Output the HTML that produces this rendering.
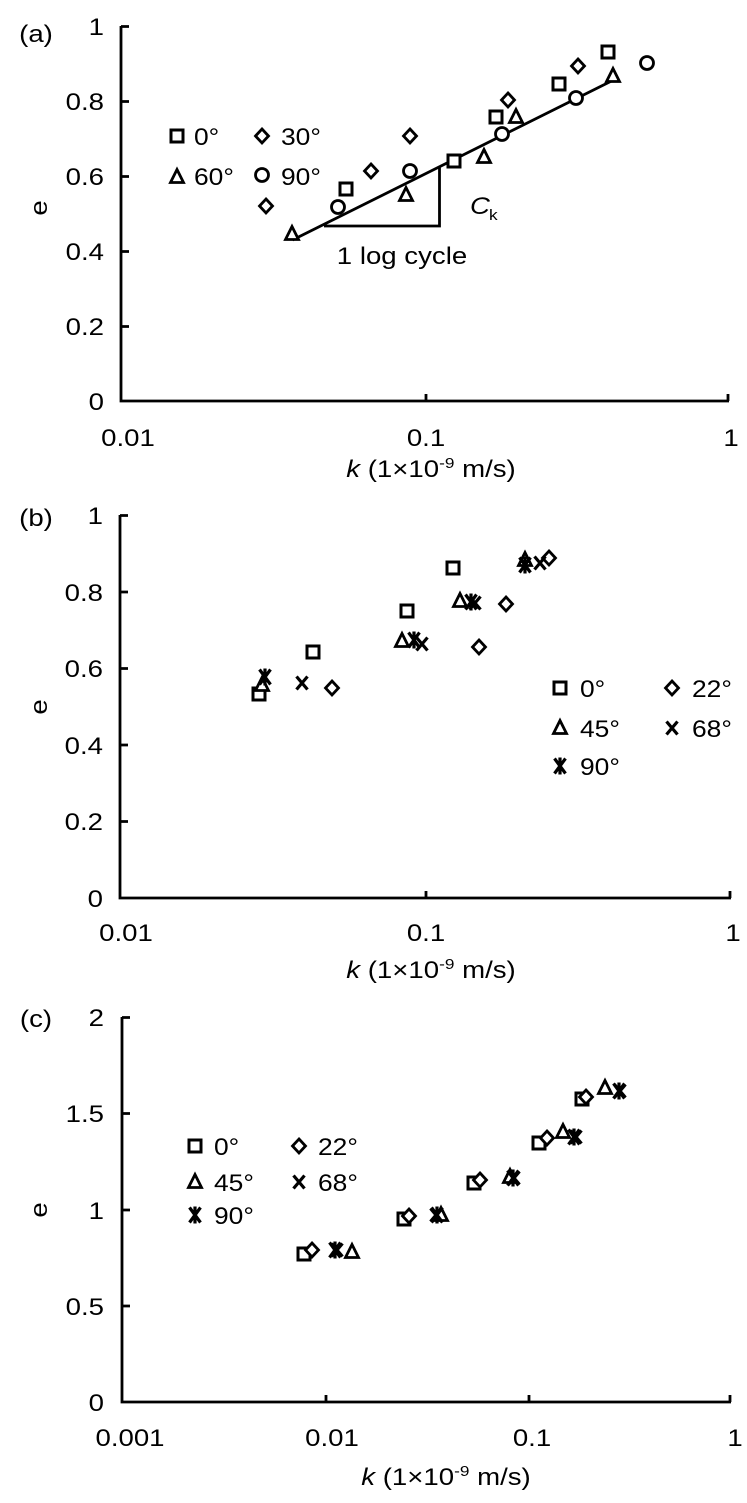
<!DOCTYPE html>
<html><head><meta charset="utf-8"><style>
html,body{margin:0;padding:0;background:#fff;}
svg{display:block;}
text{font-family:"Liberation Sans",Arial,sans-serif;fill:#000;}
</style></head><body>
<svg width="747" height="1503" viewBox="0 0 747 1503" xmlns="http://www.w3.org/2000/svg">
<defs>
<g id="sq"><rect x="-6" y="-6" width="12" height="12" fill="#fff" stroke="#000" stroke-width="3"/></g>
<g id="di"><path d="M0,-7 L6.5,0 L0,7 L-6.5,0Z" fill="#fff" stroke="#000" stroke-width="2.8"/></g>
<g id="tr"><path d="M0,-7.5 L6.5,5.5 L-6.5,5.5Z" fill="#fff" stroke="#000" stroke-width="2.8"/></g>
<g id="ci"><circle r="6.5" fill="#fff" stroke="#000" stroke-width="2.8"/></g>
<g id="xx"><path d="M-5.5,-6.5 L5.5,6.5 M5.5,-6.5 L-5.5,6.5" stroke="#000" stroke-width="3.2"/></g>
<g id="as"><path d="M-5.5,-7.5 L5.5,7.5 M5.5,-7.5 L-5.5,7.5 M0,-8.5 L0,8.5" stroke="#000" stroke-width="3.2"/></g>
</defs>

<!-- ========== Panel (a) ========== -->
<g font-size="24">
<g transform="translate(36,42) scale(1.15,1)"><text text-anchor="middle">(a)</text></g>
<g transform="translate(104,35) scale(1.15,1)"><text text-anchor="end">1</text></g>
<g transform="translate(104,110) scale(1.15,1)"><text text-anchor="end">0.8</text></g>
<g transform="translate(104,185) scale(1.15,1)"><text text-anchor="end">0.6</text></g>
<g transform="translate(104,260) scale(1.15,1)"><text text-anchor="end">0.4</text></g>
<g transform="translate(104,335) scale(1.15,1)"><text text-anchor="end">0.2</text></g>
<g transform="translate(104,410) scale(1.15,1)"><text text-anchor="end">0</text></g>
<g transform="translate(128,446) scale(1.15,1)"><text text-anchor="middle">0.01</text></g>
<g transform="translate(426,446) scale(1.15,1)"><text text-anchor="middle">0.1</text></g>
<g transform="translate(731,446) scale(1.15,1)"><text text-anchor="middle">1</text></g>
<g transform="translate(431,477) scale(1.15,1)"><text text-anchor="middle"><tspan font-style="italic">k</tspan> (1×10<tspan font-size="15" dy="-9">-9</tspan><tspan dy="9"> m/s)</tspan></text></g>
<g transform="translate(47,208) rotate(-90) scale(1.15,1)"><text text-anchor="middle">e</text></g>
</g>
<path d="M121,26 V401 H729" fill="none" stroke="#000" stroke-width="2.8"/>
<path d="M121,101.5 h8 M121,176.5 h8 M121,251.5 h8 M121,326.5 h8 M121,26.5 h8 M426,401 v-7 M728,401 v-7" stroke="#000" stroke-width="2.8"/>
<path d="M292.5,240 L613.5,80 M324,226 H439.5 V167" fill="none" stroke="#000" stroke-width="2.8"/>
<g font-size="24">
<g transform="translate(470,214) scale(1.15,1)"><text font-style="italic">C</text></g>
<g transform="translate(489,220) scale(1.15,1)"><text font-size="15">k</text></g>
<g transform="translate(402,264) scale(1.15,1)"><text text-anchor="middle">1 log cycle</text></g>
<g transform="translate(194,145) scale(1.1,1)"><text>0°</text></g>
<g transform="translate(281,145) scale(1.1,1)"><text>30°</text></g>
<g transform="translate(194,185) scale(1.1,1)"><text>60°</text></g>
<g transform="translate(281,185) scale(1.1,1)"><text>90°</text></g>
</g>
<use href="#sq" x="177" y="136"/><use href="#di" x="262" y="136"/>
<use href="#tr" x="177" y="177"/><use href="#ci" x="262" y="175"/>
<use href="#sq" x="346" y="189"/><use href="#sq" x="454" y="161"/><use href="#sq" x="496" y="117"/><use href="#sq" x="559" y="84"/><use href="#sq" x="608" y="52"/>
<use href="#di" x="266" y="206"/><use href="#di" x="371" y="171"/><use href="#di" x="410" y="136"/><use href="#di" x="508" y="100"/><use href="#di" x="578" y="66"/>
<use href="#tr" x="292" y="234"/><use href="#tr" x="406" y="195"/><use href="#tr" x="484" y="157"/><use href="#tr" x="516" y="117"/><use href="#tr" x="613" y="76"/>
<use href="#ci" x="338" y="207"/><use href="#ci" x="410" y="171"/><use href="#ci" x="502" y="134"/><use href="#ci" x="576" y="98"/><use href="#ci" x="647" y="63"/>

<!-- ========== Panel (b) ========== -->
<g font-size="24">
<g transform="translate(36,526) scale(1.15,1)"><text text-anchor="middle">(b)</text></g>
<g transform="translate(103,524) scale(1.15,1)"><text text-anchor="end">1</text></g>
<g transform="translate(103,601) scale(1.15,1)"><text text-anchor="end">0.8</text></g>
<g transform="translate(103,677) scale(1.15,1)"><text text-anchor="end">0.6</text></g>
<g transform="translate(103,754) scale(1.15,1)"><text text-anchor="end">0.4</text></g>
<g transform="translate(103,830) scale(1.15,1)"><text text-anchor="end">0.2</text></g>
<g transform="translate(103,907) scale(1.15,1)"><text text-anchor="end">0</text></g>
<g transform="translate(126,941) scale(1.15,1)"><text text-anchor="middle">0.01</text></g>
<g transform="translate(426,941) scale(1.15,1)"><text text-anchor="middle">0.1</text></g>
<g transform="translate(733,941) scale(1.15,1)"><text text-anchor="middle">1</text></g>
<g transform="translate(431,978) scale(1.15,1)"><text text-anchor="middle"><tspan font-style="italic">k</tspan> (1×10<tspan font-size="15" dy="-9">-9</tspan><tspan dy="9"> m/s)</tspan></text></g>
<g transform="translate(47,707) rotate(-90) scale(1.15,1)"><text text-anchor="middle">e</text></g>
</g>
<path d="M120,515 V898 H731" fill="none" stroke="#000" stroke-width="2.8"/>
<path d="M120,515.5 h8 M120,592 h8 M120,668.5 h8 M120,745 h8 M120,821.5 h8 M426,898 v-7 M730,898 v-7" stroke="#000" stroke-width="2.8"/>
<g font-size="24">
<g transform="translate(580,697) scale(1.1,1)"><text>0°</text></g>
<g transform="translate(692,697) scale(1.1,1)"><text>22°</text></g>
<g transform="translate(580,737) scale(1.1,1)"><text>45°</text></g>
<g transform="translate(692,737) scale(1.1,1)"><text>68°</text></g>
<g transform="translate(580,775) scale(1.1,1)"><text>90°</text></g>
</g>
<use href="#sq" x="560" y="688"/><use href="#di" x="672" y="688"/>
<use href="#tr" x="560" y="728"/><use href="#xx" x="672" y="728"/>
<use href="#as" x="560" y="766"/>
<use href="#sq" x="259" y="694"/><use href="#sq" x="313" y="652"/><use href="#sq" x="407" y="611"/><use href="#sq" x="453" y="568"/>
<use href="#di" x="332" y="688"/><use href="#di" x="479" y="647"/><use href="#di" x="506" y="604"/><use href="#di" x="549" y="558"/>
<use href="#tr" x="262" y="685"/><use href="#tr" x="402" y="641"/><use href="#tr" x="460" y="601"/><use href="#tr" x="525" y="560"/>
<use href="#xx" x="302" y="683"/><use href="#xx" x="422" y="644"/><use href="#xx" x="475" y="603"/><use href="#xx" x="540" y="563"/>
<use href="#as" x="265" y="677"/><use href="#as" x="414" y="640"/><use href="#as" x="471" y="602"/><use href="#as" x="525" y="565"/>

<!-- ========== Panel (c) ========== -->
<g font-size="24">
<g transform="translate(36,1027) scale(1.15,1)"><text text-anchor="middle">(c)</text></g>
<g transform="translate(104,1026) scale(1.15,1)"><text text-anchor="end">2</text></g>
<g transform="translate(104,1122) scale(1.15,1)"><text text-anchor="end">1.5</text></g>
<g transform="translate(104,1219) scale(1.15,1)"><text text-anchor="end">1</text></g>
<g transform="translate(104,1315) scale(1.15,1)"><text text-anchor="end">0.5</text></g>
<g transform="translate(104,1411) scale(1.15,1)"><text text-anchor="end">0</text></g>
<g transform="translate(130,1446) scale(1.15,1)"><text text-anchor="middle">0.001</text></g>
<g transform="translate(332,1446) scale(1.15,1)"><text text-anchor="middle">0.01</text></g>
<g transform="translate(532,1446) scale(1.15,1)"><text text-anchor="middle">0.1</text></g>
<g transform="translate(735,1446) scale(1.15,1)"><text text-anchor="middle">1</text></g>
<g transform="translate(446,1485) scale(1.15,1)"><text text-anchor="middle"><tspan font-style="italic">k</tspan> (1×10<tspan font-size="15" dy="-9">-9</tspan><tspan dy="9"> m/s)</tspan></text></g>
<g transform="translate(47,1210) rotate(-90) scale(1.15,1)"><text text-anchor="middle">e</text></g>
</g>
<path d="M122,1017 V1402 H731" fill="none" stroke="#000" stroke-width="2.8"/>
<path d="M122,1017.5 h8 M122,1113.5 h8 M122,1210 h8 M122,1306 h8 M326,1402 v-7 M529,1402 v-7 M730,1402 v-7" stroke="#000" stroke-width="2.8"/>
<g font-size="24">
<g transform="translate(214,1155) scale(1.1,1)"><text>0°</text></g>
<g transform="translate(318,1155) scale(1.1,1)"><text>22°</text></g>
<g transform="translate(214,1191) scale(1.1,1)"><text>45°</text></g>
<g transform="translate(318,1191) scale(1.1,1)"><text>68°</text></g>
<g transform="translate(214,1224) scale(1.1,1)"><text>90°</text></g>
</g>
<use href="#sq" x="195" y="1146"/><use href="#di" x="299" y="1146"/>
<use href="#tr" x="195" y="1182"/><use href="#xx" x="299" y="1182"/>
<use href="#as" x="195" y="1215"/>
<use href="#sq" x="304" y="1254"/><use href="#di" x="312" y="1250"/><use href="#tr" x="352" y="1252"/><use href="#xx" x="337" y="1250"/><use href="#as" x="335" y="1250"/>
<use href="#sq" x="404" y="1219"/><use href="#di" x="409" y="1216"/><use href="#tr" x="441" y="1215"/><use href="#xx" x="436" y="1215"/><use href="#as" x="437" y="1215"/>
<use href="#sq" x="474" y="1183"/><use href="#di" x="480" y="1180"/><use href="#tr" x="510" y="1177"/><use href="#xx" x="514" y="1178"/><use href="#as" x="513" y="1178"/>
<use href="#sq" x="539" y="1143"/><use href="#di" x="547" y="1138"/><use href="#tr" x="563" y="1132"/><use href="#xx" x="576" y="1137"/><use href="#as" x="574" y="1137"/>
<use href="#sq" x="582" y="1099"/><use href="#di" x="586" y="1097"/><use href="#tr" x="605" y="1088"/><use href="#xx" x="620" y="1091"/><use href="#as" x="619" y="1091"/>
</svg>
</body></html>
